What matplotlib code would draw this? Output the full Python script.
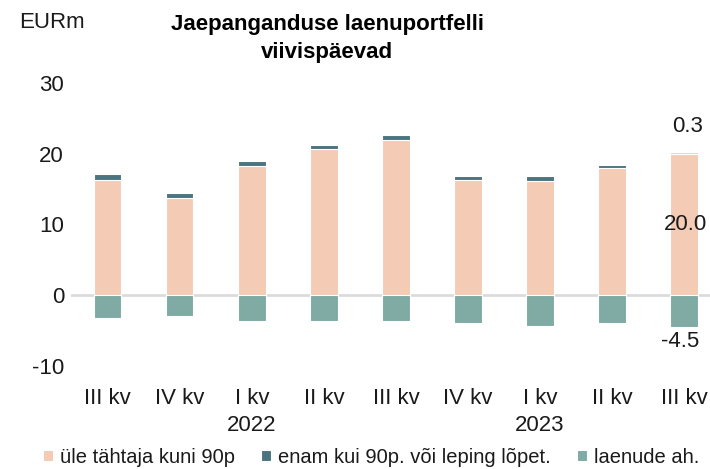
import numpy as np
import matplotlib.pyplot as plt

plt.rcParams['font.family'] = ['Liberation Sans', 'DejaVu Sans']

# --------- Andmed ---------
quarters = ["III kv", "IV kv", "I kv", "II kv", "III kv", "IV kv", "I kv", "II kv", "III kv"]
years = {2: "2022", 6: "2023"}
ule_90 = [16.3, 13.7, 18.2, 20.7, 21.9, 16.3, 16.2, 18.0, 20.0]
enam_90 = [0.9, 0.8, 0.8, 0.6, 0.8, 0.6, 0.6, 0.4, 0.3]
laenude_ah = [-3.2, -3.0, -3.7, -3.7, -3.6, -3.9, -4.3, -3.95, -4.5]

c_peach = "#f4cbb5"
c_dark = "#4a7480"
c_teal = "#80aaa4"
c_light = "#c9dada"
c_text = "#1a1a1a"

fig = plt.figure(figsize=(7.1, 4.69), dpi=100)
ax = fig.add_axes([0.1, 0.22, 0.9, 0.603])

x = np.arange(len(quarters))
w = 0.38
dark_colors = [c_dark] * (len(x) - 1) + [c_light]

ax.bar(x, ule_90, w, color=c_peach, edgecolor="white", linewidth=0.8, label="üle tähtaja kuni 90p", zorder=2)
ax.bar(x, enam_90, w, bottom=ule_90, color=dark_colors, edgecolor="white", linewidth=0.8,
       label="enam kui 90p. või leping lõpet.", zorder=2)
ax.bar(x, laenude_ah, w, color=c_teal, edgecolor="white", linewidth=0.8, label="laenude ah.", zorder=2)

ax.axhline(0, color="#dcdcdc", linewidth=2, zorder=1)

ax.set_ylim(-10, 30)
ax.set_xlim(-0.51, 8.36)
ax.set_yticks([-10, 0, 10, 20, 30])
ax.set_yticklabels(["-10", "0", "10", "20", "30"])
ax.set_xticks(x)
ax.set_xticklabels(quarters)
ax.tick_params(axis="both", length=0, labelsize=16, colors=c_text)
ax.tick_params(axis="x", pad=16)
ax.tick_params(axis="y", pad=5)
for s in ax.spines.values():
    s.set_visible(False)

for i, yr in years.items():
    ax.text(i, -18.4, yr, ha="center", va="center", fontsize=16, color=c_text)

# viimase tulba sildid
last = len(x) - 1
ax.text(last + 0.05, ule_90[last] + enam_90[last] + 3.5, f"{enam_90[last]:.1f}", ha="center", va="center",
        fontsize=16, color=c_text)
ax.text(last + 0.02, 10, f"{ule_90[last]:.1f}", ha="center", va="center", fontsize=16, color=c_text)
ax.text(last - 0.05, -6.5, f"{laenude_ah[last]:.1f}", ha="center", va="center", fontsize=16, color=c_text)

fig.text(0.027, 0.952, "EURm", fontsize=16, ha="left", va="center", color=c_text)
fig.text(0.461, 0.918, "Jaepanganduse laenuportfelli\nviivispäevad", fontsize=16, fontweight="bold",
         ha="center", va="center", linespacing=1.4, color="#000000")

handles, labels = ax.get_legend_handles_labels()
leg = fig.legend(handles, labels, loc="center", bbox_to_anchor=(0.523, 0.025), ncol=3, frameon=False,
                 fontsize=14.5, handlelength=0.5, handleheight=0.5, handletextpad=0.35, columnspacing=1.3,
                 labelcolor=c_text)

fig.savefig("out.png", dpi=100)
